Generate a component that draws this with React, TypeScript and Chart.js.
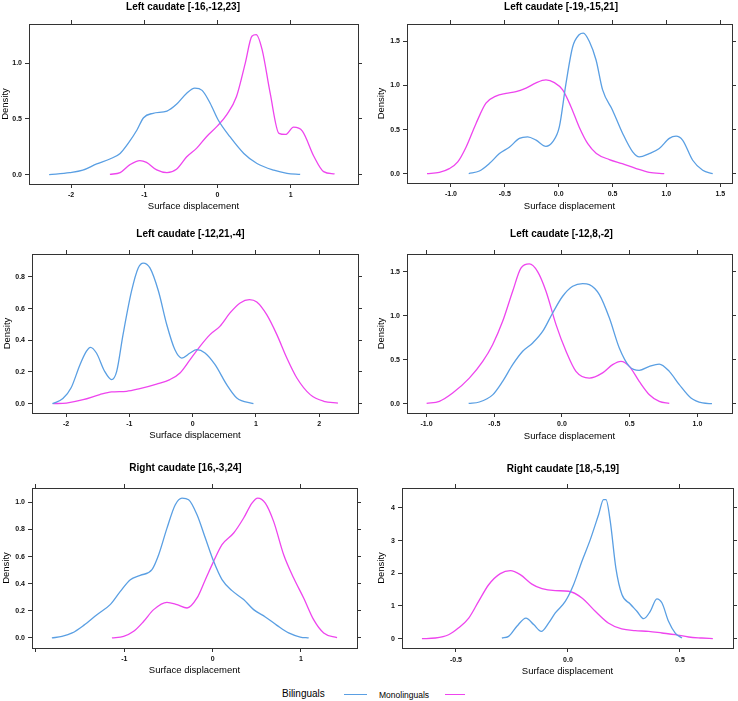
import React, { useEffect, useRef } from "react";
import { Chart, registerables } from "chart.js";

Chart.register(...registerables);

const FONT = "'Liberation Sans', Arial, Helvetica, sans-serif";
const AXIS = "#333333";
const BLUE = "#5a9fe3";
const MAGENTA = "#ee45ee";
const SERIES_NAMES = ["Bilinguals", "Monolinguals"];
const X_TITLE = "Surface displacement";
const Y_TITLE = "Density";

// ---------- Panel 1 : Left caudate [-16,-12,23]
const p1Title = "Left caudate [-16,-12,23]";
const p1BiX = [-2.30, -2.02, -1.84, -1.65, -1.47, -1.33, -1.22, -1.10, -1.01, -0.88, -0.69, -0.56, -0.42, -0.31, -0.21, -0.10, 0.01, 0.17, 0.36, 0.54, 0.77, 0.95, 1.13];
const p1BiY = [0, 0.018, 0.04, 0.096, 0.14, 0.19, 0.28, 0.40, 0.51, 0.55, 0.57, 0.63, 0.73, 0.775, 0.755, 0.64, 0.49, 0.34, 0.19, 0.10, 0.04, 0.012, 0.003];
const p1MoX = [-1.47, -1.33, -1.20, -1.06, -0.97, -0.83, -0.69, -0.56, -0.42, -0.28, -0.15, -0.01, 0.13, 0.26, 0.38, 0.47, 0.53, 0.61, 0.72, 0.84, 0.93, 1.04, 1.16, 1.32, 1.45, 1.60];
const p1MoY = [0.003, 0.018, 0.087, 0.126, 0.11, 0.042, 0.018, 0.048, 0.16, 0.24, 0.34, 0.43, 0.54, 0.70, 1.00, 1.24, 1.255, 1.12, 0.73, 0.37, 0.36, 0.425, 0.39, 0.16, 0.027, 0.006];
const p1XTicks = [-2, -1, 0, 1];
const p1XLabels = ["-2", "-1", "0", "1"];
const p1YTicks = [0, 0.5, 1];
const p1YLabels = ["0.0", "0.5", "1.0"];
const p1XRange = [-2.575, 1.92];
const p1YRange = [-0.084, 1.35];

// ---------- Panel 2 : Left caudate [-19,-15,21]
const p2Title = "Left caudate [-19,-15,21]";
const p2BiX = [-0.835, -0.736, -0.644, -0.55, -0.458, -0.365, -0.288, -0.21, -0.118, -0.056, 0.006, 0.068, 0.13, 0.19, 0.229, 0.285, 0.347, 0.408, 0.50, 0.594, 0.687, 0.749, 0.84, 0.934, 1.027, 1.09, 1.15, 1.244, 1.337, 1.43];
const p2BiY = [0, 0.03, 0.114, 0.228, 0.30, 0.40, 0.418, 0.38, 0.31, 0.36, 0.53, 1.025, 1.44, 1.576, 1.595, 1.50, 1.29, 0.95, 0.72, 0.456, 0.247, 0.19, 0.228, 0.285, 0.40, 0.425, 0.38, 0.152, 0.038, 0];
const p2MoX = [-1.222, -1.108, -1.015, -0.937, -0.86, -0.767, -0.675, -0.582, -0.489, -0.396, -0.303, -0.21, -0.118, -0.04, 0.037, 0.114, 0.19, 0.27, 0.35, 0.47, 0.59, 0.72, 0.84, 0.98];
const p2MoY = [0, 0.015, 0.057, 0.133, 0.30, 0.57, 0.80, 0.88, 0.91, 0.93, 0.97, 1.03, 1.063, 1.033, 0.95, 0.76, 0.53, 0.34, 0.23, 0.16, 0.114, 0.057, 0.015, 0];
const p2XTicks = [-1, -0.5, 0, 0.5, 1, 1.5];
const p2XLabels = ["-1.0", "-0.5", "0.0", "0.5", "1.0", "1.5"];
const p2YTicks = [0, 0.5, 1, 1.5];
const p2YLabels = ["0.0", "0.5", "1.0", "1.5"];
const p2XRange = [-1.408, 1.609];
const p2YRange = [-0.106, 1.698];

// ---------- Panel 3 : Left caudate [-12,21,-4]
const p3Title = "Left caudate [-12,21,-4]";
const p3BiX = [-2.216, -2.05, -1.92, -1.78, -1.68, -1.615, -1.52, -1.39, -1.28, -1.20, -1.10, -0.966, -0.86, -0.78, -0.675, -0.54, -0.41, -0.28, -0.174, -0.04, 0.063, 0.195, 0.354, 0.538, 0.697, 0.96];
const p3BiY = [0, 0.032, 0.10, 0.246, 0.33, 0.356, 0.32, 0.204, 0.152, 0.204, 0.436, 0.71, 0.857, 0.888, 0.857, 0.71, 0.50, 0.34, 0.288, 0.32, 0.341, 0.32, 0.246, 0.12, 0.036, 0];
const p3MoX = [-2.205, -1.995, -1.73, -1.467, -1.28, -1.045, -0.834, -0.57, -0.36, -0.2, -0.04, 0.116, 0.274, 0.43, 0.59, 0.75, 0.897, 1.013, 1.17, 1.33, 1.488, 1.646, 1.857, 2.07, 2.295];
const p3MoY = [0, 0.004, 0.025, 0.057, 0.074, 0.078, 0.095, 0.124, 0.152, 0.194, 0.278, 0.362, 0.436, 0.488, 0.573, 0.636, 0.657, 0.642, 0.562, 0.436, 0.288, 0.162, 0.057, 0.015, 0.004];
const p3XTicks = [-2, -1, 0, 1, 2];
const p3XLabels = ["-2", "-1", "0", "1", "2"];
const p3YTicks = [0, 0.2, 0.4, 0.6, 0.8];
const p3YLabels = ["0.0", "0.2", "0.4", "0.6", "0.8"];
const p3XRange = [-2.538, 2.612];
const p3YRange = [-0.059, 0.945];

// ---------- Panel 4 : Left caudate [-12,8,-2]
const p4Title = "Left caudate [-12,8,-2]";
const p4BiX = [-0.689, -0.61, -0.512, -0.438, -0.364, -0.29, -0.216, -0.143, -0.069, 0.005, 0.079, 0.153, 0.202, 0.276, 0.35, 0.423, 0.497, 0.57, 0.645, 0.718, 0.792, 0.866, 0.952, 1.038, 1.107];
const p4BiY = [0.004, 0.019, 0.10, 0.254, 0.443, 0.595, 0.69, 0.82, 1.03, 1.22, 1.333, 1.364, 1.352, 1.239, 0.973, 0.633, 0.424, 0.379, 0.424, 0.45, 0.367, 0.216, 0.064, 0.008, 0];
const p4MoX = [-0.999, -0.905, -0.807, -0.684, -0.585, -0.512, -0.438, -0.364, -0.303, -0.241, -0.18, -0.118, -0.044, 0.03, 0.103, 0.202, 0.30, 0.374, 0.435, 0.497, 0.57, 0.645, 0.718, 0.792];
const p4MoY = [0.004, 0.026, 0.12, 0.29, 0.48, 0.67, 0.935, 1.277, 1.54, 1.587, 1.50, 1.277, 0.898, 0.595, 0.367, 0.29, 0.35, 0.443, 0.48, 0.424, 0.254, 0.102, 0.026, 0.004];
const p4XTicks = [-1, -0.5, 0, 0.5, 1];
const p4XLabels = ["-1.0", "-0.5", "0.0", "0.5", "1.0"];
const p4YTicks = [0, 0.5, 1, 1.5];
const p4YLabels = ["0.0", "0.5", "1.0", "1.5"];
const p4XRange = [-1.144, 1.255];
const p4YRange = [-0.106, 1.70];

// ---------- Panel 5 : Right caudate [16,-3,24]
const p5Title = "Right caudate [16,-3,24]";
const p5BiX = [-1.82, -1.706, -1.59, -1.46, -1.31, -1.16, -1.045, -0.932, -0.82, -0.687, -0.611, -0.517, -0.423, -0.347, -0.272, -0.177, -0.083, 0.011, 0.106, 0.219, 0.351, 0.464, 0.596, 0.728, 0.86, 0.992, 1.087];
const p5BiY = [0, 0.012, 0.037, 0.093, 0.172, 0.246, 0.344, 0.43, 0.462, 0.504, 0.614, 0.81, 0.983, 1.032, 1.02, 0.909, 0.737, 0.565, 0.43, 0.349, 0.283, 0.209, 0.155, 0.093, 0.037, 0.007, 0];
const p5MoX = [-1.14, -1.008, -0.894, -0.78, -0.668, -0.517, -0.404, -0.29, -0.177, -0.083, 0.011, 0.106, 0.238, 0.351, 0.445, 0.51, 0.596, 0.69, 0.804, 0.917, 1.03, 1.143, 1.257, 1.408];
const p5MoY = [0, 0.012, 0.049, 0.123, 0.209, 0.263, 0.246, 0.221, 0.295, 0.43, 0.565, 0.688, 0.774, 0.885, 0.995, 1.032, 0.995, 0.86, 0.614, 0.442, 0.295, 0.135, 0.037, 0.002];
const p5XTicks = [-2, -1, 0, 1];
const p5XLabels = ["", "-1", "0", "1"];
const p5YTicks = [0, 0.2, 0.4, 0.6, 0.8, 1.0];
const p5YLabels = ["0.0", "0.2", "0.4", "0.6", "0.8", "1.0"];
const p5XRange = [-2.045, 1.634];
const p5YRange = [-0.074, 1.106];

// ---------- Panel 6 : Right caudate [18,-5,19]
const p6Title = "Right caudate [18,-5,19]";
const p6BiX = [-0.295, -0.265, -0.228, -0.1875, -0.153, -0.119, -0.086, -0.0565, -0.012, 0.025, 0.0625, 0.0997, 0.137, 0.159, 0.17, 0.189, 0.214, 0.241, 0.278, 0.308, 0.338, 0.368, 0.397, 0.42, 0.449, 0.479, 0.509];
const p6BiY = [0.02, 0.07, 0.38, 0.63, 0.43, 0.224, 0.48, 0.786, 1.14, 1.65, 2.37, 3.03, 3.80, 4.255, 4.255, 3.59, 2.16, 1.35, 1.06, 0.84, 0.61, 0.84, 1.22, 1.09, 0.53, 0.17, 0.02];
const p6MoX = [-0.652, -0.592, -0.533, -0.488, -0.443, -0.399, -0.354, -0.302, -0.257, -0.213, -0.161, -0.116, -0.057, 0.003, 0.0625, 0.122, 0.18, 0.24, 0.30, 0.36, 0.42, 0.479, 0.539, 0.598, 0.647];
const p6MoY = [0, 0.02, 0.12, 0.33, 0.63, 1.14, 1.65, 1.99, 2.08, 1.96, 1.67, 1.53, 1.47, 1.45, 1.245, 0.837, 0.48, 0.296, 0.245, 0.224, 0.173, 0.122, 0.05, 0.02, 0];
const p6XTicks = [-0.5, 0, 0.5];
const p6XLabels = ["-0.5", "0.0", "0.5"];
const p6YTicks = [0, 1, 2, 3, 4];
const p6YLabels = ["0", "1", "2", "3", "4"];
const p6XRange = [-0.741, 0.737];
const p6YRange = [-0.286, 4.61];

type Layout = {
  x: number; y: number; w: number; h: number;
  yW: number; y2W: number; x2H: number; xH: number;
  titlePad: number; xTickPad: number; xTitlePad: number; yTitlePad: number;
};

type PanelCfg = {
  title: string;
  biX: number[]; biY: number[]; moX: number[]; moY: number[];
  xTicks: number[]; xLabels: string[]; yTicks: number[]; yLabels: string[];
  xRange: number[]; yRange: number[];
  layout: Layout;
};

const panels: PanelCfg[] = [
  { title: p1Title, biX: p1BiX, biY: p1BiY, moX: p1MoX, moY: p1MoY, xTicks: p1XTicks, xLabels: p1XLabels, yTicks: p1YTicks, yLabels: p1YLabels, xRange: p1XRange, yRange: p1YRange,
    layout: { x: 0, y: 0, w: 366, h: 225, yW: 29, y2W: 8, x2H: 11, xH: 41, titlePad: 1, xTickPad: 3, xTitlePad: 12.6, yTitlePad: 0 } },
  { title: p2Title, biX: p2BiX, biY: p2BiY, moX: p2MoX, moY: p2MoY, xTicks: p2XTicks, xLabels: p2XLabels, yTicks: p2YTicks, yLabels: p2YLabels, xRange: p2XRange, yRange: p2YRange,
    layout: { x: 375, y: 0, w: 372, h: 225, yW: 32, y2W: 15, x2H: 11, xH: 42, titlePad: 1, xTickPad: 3.3, xTitlePad: 13.3, yTitlePad: 0.5 } },
  { title: p3Title, biX: p3BiX, biY: p3BiY, moX: p3MoX, moY: p3MoY, xTicks: p3XTicks, xLabels: p3XLabels, yTicks: p3YTicks, yLabels: p3YLabels, xRange: p3XRange, yRange: p3YRange,
    layout: { x: 2, y: 225, w: 377, h: 230, yW: 30, y2W: 21, x2H: 13.7, xH: 42, titlePad: 3.3, xTickPad: 3.1, xTitlePad: 13.6, yTitlePad: 0 } },
  { title: p4Title, biX: p4BiX, biY: p4BiY, moX: p4MoX, moY: p4MoY, xTicks: p4XTicks, xLabels: p4XLabels, yTicks: p4YTicks, yLabels: p4YLabels, xRange: p4XRange, yRange: p4YRange,
    layout: { x: 375, y: 225, w: 373, h: 230, yW: 32, y2W: 16, x2H: 13.7, xH: 42, titlePad: 3.3, xTickPad: 3.1, xTitlePad: 13.3, yTitlePad: 0.5 } },
  { title: p5Title, biX: p5BiX, biY: p5BiY, moX: p5MoX, moY: p5MoY, xTicks: p5XTicks, xLabels: p5XLabels, yTicks: p5YTicks, yLabels: p5YLabels, xRange: p5XRange, yRange: p5YRange,
    layout: { x: 1, y: 455, w: 369, h: 230, yW: 31, y2W: 13, x2H: 13.7, xH: 37, titlePad: 7.3, xTickPad: 2.8, xTitlePad: 8.6, yTitlePad: 0 } },
  { title: p6Title, biX: p6BiX, biY: p6BiY, moX: p6MoX, moY: p6MoY, xTicks: p6XTicks, xLabels: p6XLabels, yTicks: p6YTicks, yLabels: p6YLabels, xRange: p6XRange, yRange: p6YRange,
    layout: { x: 376, y: 455, w: 374, h: 230, yW: 26, y2W: 17, x2H: 13, xH: 37, titlePad: 8, xTickPad: 3.8, xTitlePad: 8.3, yTitlePad: 0 } },
];

function Panel({ cfg }: { cfg: PanelCfg }) {
  const ref = useRef<HTMLCanvasElement | null>(null);
  useEffect(() => {
    const canvas = ref.current;
    if (!canvas) return;
    const L = cfg.layout;
    const toPts = (xs: number[], ys: number[]) => xs.map((x, i) => ({ x, y: ys[i] }));
    const grid = { display: true, drawOnChartArea: false, drawTicks: true, tickLength: 4, color: AXIS, lineWidth: 1 };
    const border = { display: true, color: AXIS, width: 1 };
    const tickFont = { family: FONT, size: 7, weight: "bold" };
    const setX = (s: any) => { s.ticks = cfg.xTicks.map((v) => ({ value: v })); };
    const setY = (s: any) => { s.ticks = cfg.yTicks.map((v) => ({ value: v })); };
    const chart = new Chart(canvas, {
      type: "line",
      data: {
        datasets: [
          { label: SERIES_NAMES[0], data: toPts(cfg.biX, cfg.biY), borderColor: BLUE, backgroundColor: BLUE, borderWidth: 1.3, pointRadius: 0, fill: false, cubicInterpolationMode: "monotone", xAxisID: "x", yAxisID: "y" },
          { label: SERIES_NAMES[1], data: toPts(cfg.moX, cfg.moY), borderColor: MAGENTA, backgroundColor: MAGENTA, borderWidth: 1.3, pointRadius: 0, fill: false, cubicInterpolationMode: "monotone", xAxisID: "x", yAxisID: "y" },
        ],
      },
      options: {
        responsive: false,
        animation: false,
        devicePixelRatio: 1,
        layout: { padding: 0 },
        plugins: {
          legend: { display: false },
          tooltip: { enabled: false },
          title: {
            display: true,
            text: cfg.title,
            color: "#000",
            font: { family: FONT, size: 10, weight: "bold", lineHeight: 1.2 },
            padding: { top: L.titlePad, bottom: 0 },
          },
        },
        scales: {
          x: {
            type: "linear", axis: "x", position: "bottom",
            min: cfg.xRange[0], max: cfg.xRange[1],
            afterBuildTicks: setX,
            afterFit: (s: any) => { s.height = L.xH; },
            ticks: {
              autoSkip: false, maxRotation: 0, minRotation: 0, padding: L.xTickPad, color: "#111", font: tickFont,
              callback: (v: any) => { const i = cfg.xTicks.indexOf(v); return i >= 0 ? cfg.xLabels[i] : ""; },
            },
            grid, border,
            title: { display: true, text: X_TITLE, color: "#000", font: { family: FONT, size: 9.5, lineHeight: 1.2 }, padding: { top: 0, bottom: L.xTitlePad } },
          },
          x2: {
            type: "linear", axis: "x", position: "top",
            min: cfg.xRange[0], max: cfg.xRange[1],
            afterBuildTicks: setX,
            afterFit: (s: any) => { s.height = L.x2H; },
            ticks: { display: false, autoSkip: false },
            grid, border,
          },
          y: {
            type: "linear", axis: "y", position: "left",
            min: cfg.yRange[0], max: cfg.yRange[1],
            afterBuildTicks: setY,
            afterFit: (s: any) => { s.width = L.yW; },
            ticks: {
              autoSkip: false, padding: 3, color: "#111", font: tickFont,
              callback: (v: any) => { const i = cfg.yTicks.indexOf(v); return i >= 0 ? cfg.yLabels[i] : ""; },
            },
            grid, border,
            title: { display: true, text: Y_TITLE, color: "#000", font: { family: FONT, size: 9.5, lineHeight: 1.2 }, padding: { top: L.yTitlePad, bottom: 0 } },
          },
          y2: {
            type: "linear", axis: "y", position: "right",
            min: cfg.yRange[0], max: cfg.yRange[1],
            afterBuildTicks: setY,
            afterFit: (s: any) => { s.width = L.y2W; },
            ticks: { display: false, autoSkip: false },
            grid, border,
          },
        },
      } as any,
    });
    return () => chart.destroy();
  }, [cfg]);
  const L = cfg.layout;
  return (
    <canvas
      ref={ref}
      width={L.w}
      height={L.h}
      style={{ position: "absolute", left: L.x, top: L.y, width: L.w, height: L.h }}
    />
  );
}

export default function App() {
  return (
    <div style={{ position: "absolute", left: 0, top: 0, width: 738, height: 701, overflow: "hidden", background: "#fff" }}>
      {panels.map((p, i) => (
        <Panel key={i} cfg={p} />
      ))}
      <div style={{ position: "absolute", left: 282, top: 688, height: 12, fontFamily: FONT, color: "#000" }}>
        <span style={{ position: "absolute", left: 0, top: 0, fontSize: 10, lineHeight: "12px", whiteSpace: "nowrap" }}>{SERIES_NAMES[0]}</span>
        <span style={{ position: "absolute", left: 62, top: 6, width: 23, height: 0, borderTop: `1.3px solid ${BLUE}` }} />
        <span style={{ position: "absolute", left: 97, top: 1, fontSize: 8.5, lineHeight: "12px", whiteSpace: "nowrap" }}>{SERIES_NAMES[1]}</span>
        <span style={{ position: "absolute", left: 163, top: 6, width: 20, height: 0, borderTop: `1.3px solid ${MAGENTA}` }} />
      </div>
    </div>
  );
}
